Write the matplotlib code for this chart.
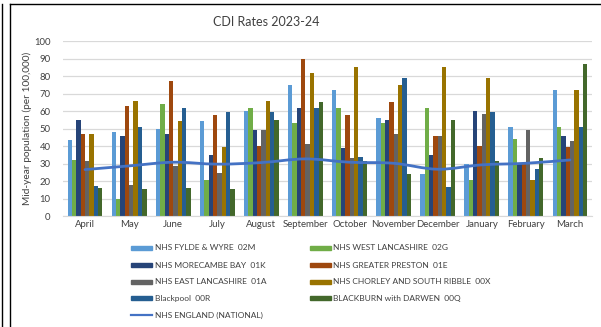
import numpy as np
import matplotlib
matplotlib.use("Agg")
import matplotlib.pyplot as plt
from matplotlib.path import Path
from matplotlib.patches import PathPatch
from matplotlib.lines import Line2D

plt.rcParams['font.family'] = ['Lato', 'DejaVu Sans']

months = ["April", "May", "June", "July", "August", "September", "October",
          "November", "December", "January", "February", "March"]

fylde_wyre = [43.5, 48, 50, 54.2, 60.1, 74.8, 72.1, 56.1, 24, 30, 51.3, 72.1]
west_lancs = [32, 10, 63.9, 20.6, 61.8, 53.4, 61.8, 53.4, 61.8, 20.6, 43.9, 51.3]
morecambe_bay = [55, 46, 47.3, 35.3, 49.4, 62, 38.9, 55, 35.3, 59.9, 30.1, 45.8]
greater_preston = [47.3, 63.3, 77.3, 57.8, 40, 89.7, 57.8, 65.4, 45.8, 40, 30.1, 39.8]
east_lancs = [31.5, 18, 28.6, 24.6, 49.4, 41.2, 33.4, 47.3, 45.8, 58.4, 49.4, 42.9]
chorley_south_ribble = [47.3, 65.8, 54.4, 39.5, 65.8, 81.8, 85.6, 74.8, 85.6, 79, 21, 72.3]
blackpool = [17.5, 51, 61.8, 59.7, 59.7, 61.8, 34.1, 79.2, 16.8, 59.7, 27.3, 51]
blackburn_darwen = [16, 15.6, 16, 15.6, 55, 65.3, 31.5, 24.4, 55, 31.5, 33.6, 86.8]
england_national = [26.7, 28.8, 30.9, 29.8, 30.7, 32.8, 30.9, 30.3, 26.9, 29.4, 30.3, 32.2]

series = [
    ("NHS FYLDE & WYRE  02M", fylde_wyre, "#5B9BD5"),
    ("NHS WEST LANCASHIRE  02G", west_lancs, "#70AD47"),
    ("NHS MORECAMBE BAY  01K", morecambe_bay, "#264478"),
    ("NHS GREATER PRESTON  01E", greater_preston, "#9E480E"),
    ("NHS EAST LANCASHIRE  01A", east_lancs, "#636363"),
    ("NHS CHORLEY AND SOUTH RIBBLE  00X", chorley_south_ribble, "#997300"),
    ("Blackpool  00R", blackpool, "#255E91"),
    ("BLACKBURN with DARWEN  00Q", blackburn_darwen, "#43682B"),
]
national_label = "NHS ENGLAND (NATIONAL)"
national_color = "#4472C4"
text_color = "#404040"

W, H = 601, 327
fig = plt.figure(figsize=(W / 100, H / 100), dpi=100)
fig.patch.set_facecolor("white")

# plot area in pixel coordinates
x0, x1, ytop, ybot = 63, 592, 41.3, 216.3
ax = fig.add_axes([x0 / W, 1 - ybot / H, (x1 - x0) / W, (ybot - ytop) / H])

n = len(series)
x = np.arange(len(months))
group_w = 0.79
bw = group_w / n
for i, (name, vals, col) in enumerate(series):
    ax.bar(x - group_w / 2 + bw * (i + 0.5), vals, width=bw, color=col,
           edgecolor="none", zorder=2)

# smoothed national line (Catmull-Rom through the monthly values)
pts = np.column_stack([x, england_national]).astype(float)
verts = [tuple(pts[0])]
codes = [Path.MOVETO]
for k in range(len(pts) - 1):
    p0 = pts[k - 1] if k > 0 else pts[k]
    p1, p2 = pts[k], pts[k + 1]
    p3 = pts[k + 2] if k + 2 < len(pts) else pts[k + 1]
    c1 = p1 + (p2 - p0) / 6
    c2 = p2 - (p3 - p1) / 6
    verts += [tuple(c1), tuple(c2), tuple(p2)]
    codes += [Path.CURVE4] * 3
ax.add_patch(PathPatch(Path(verts, codes), facecolor="none",
                       edgecolor=national_color, lw=2.0, zorder=3,
                       capstyle="round"))

ax.set_xlim(-0.5, len(months) - 0.5)
ax.set_ylim(0, 100)
ax.set_yticks(np.arange(0, 101, 10))
ax.set_xticks(x)
ax.set_xticklabels(months, fontsize=6.9, color=text_color)
ax.tick_params(axis="y", labelsize=6.8, colors=text_color, length=0, pad=9)
ax.tick_params(axis="x", length=0, pad=3)
ax.grid(axis="y", color="#D9D9D9", lw=0.9, zorder=0)
for s in ["top", "right", "left"]:
    ax.spines[s].set_visible(False)
ax.spines["bottom"].set_color("#D9D9D9")
ax.set_axisbelow(True)
ax.set_ylabel("Mid-year population (per 100,000)", fontsize=7.3,
              color=text_color)
ax.yaxis.set_label_coords((32 - x0) / (x1 - x0), 0.5)

fig.text(266 / W, 1 - 22 / H, "CDI Rates 2023-24", ha="center", va="center",
         fontsize=9, color=text_color)

# legend: two columns, national line last on the left
left = [series[0], series[2], series[4], series[6]]
right = [series[1], series[3], series[5], series[7]]
rows_y = [248, 265, 282, 298]
leg_fs = 6.0
for (name, _, col), yy in zip(left, rows_y):
    fig.patches.append(plt.Rectangle((131 / W, 1 - (yy + 2) / H), 21 / W, 4 / H,
                                     transform=fig.transFigure, color=col))
    fig.text(155 / W, 1 - yy / H, name, va="center", fontsize=leg_fs,
             color=text_color)
for (name, _, col), yy in zip(right, rows_y):
    fig.patches.append(plt.Rectangle((310 / W, 1 - (yy + 2) / H), 21 / W, 4 / H,
                                     transform=fig.transFigure, color=col))
    fig.text(333 / W, 1 - yy / H, name, va="center", fontsize=leg_fs,
             color=text_color)
fig.lines.append(Line2D([131 / W, 152 / W], [1 - 315 / H, 1 - 315 / H],
                        transform=fig.transFigure, color=national_color, lw=1.6))
fig.text(155 / W, 1 - 315 / H, national_label, va="center", fontsize=leg_fs,
         color=text_color)

# frame lines around the chart
for xx in (2, 10):
    fig.lines.append(Line2D([xx / W, xx / W], [0, 1 - 4 / H],
                            transform=fig.transFigure, color="black", lw=1.0))
fig.lines.append(Line2D([10 / W, 1], [1 - 4 / H, 1 - 4 / H],
                        transform=fig.transFigure, color="black", lw=1.0))

fig.savefig("out.png", dpi=100, facecolor="white")
